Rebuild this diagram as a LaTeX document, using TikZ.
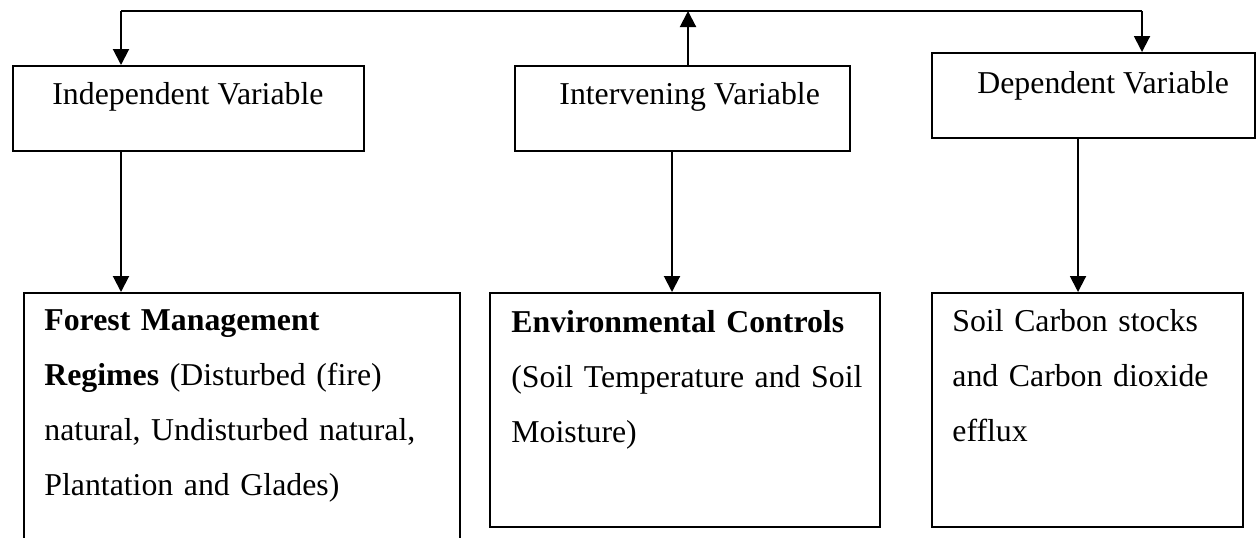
\documentclass[tikz,border=0pt]{standalone}
\usepackage{fontspec}
\setmainfont{Liberation Serif}
\usetikzlibrary{arrows.meta}
\begin{document}
\begin{tikzpicture}[x=0.5pt,y=-0.5pt,
  box/.style={draw,line width=1pt,rectangle,inner sep=0pt,anchor=north west},
  txt/.style={inner sep=0pt,anchor=base west,align=left,font=\fontsize{15.9}{27.5}\selectfont},
  arr/.style={line width=1pt,-{Triangle[width=8pt,length=8pt]}},
  ln/.style={line width=1pt}]
\useasboundingbox (0,0) rectangle (1256,537);
\clip (0,0) rectangle (1256,537);
% top boxes
\node[box,minimum width=175.5pt,minimum height=42.5pt] (b1) at (12,65) {};
\node[box,minimum width=167.5pt,minimum height=42.5pt] (b2) at (514,65) {};
\node[box,minimum width=161.5pt,minimum height=42.5pt] (b3) at (931,52) {};
% bottom boxes
\node[box,minimum width=218pt,minimum height=140pt] (b4) at (23,292) {};
\node[box,minimum width=195pt,minimum height=117pt] (b5) at (489,292) {};
\node[box,minimum width=155.5pt,minimum height=117pt] (b6) at (931,292) {};
% texts
\node[txt] (t1) at (52,104) {Independent Variable};
\node[txt] (t2) at (559,104) {Intervening Variable};
\node[txt] (t3) at (977,93) {Dependent Variable};
\node[txt,text width=210pt] (t4) at (44,330) {\textbf{Forest Management}\\\textbf{Regimes} (Disturbed (fire)\\natural, Undisturbed natural,\\Plantation and Glades)};
\node[txt,text width=190pt] (t5) at (511,332) {\textbf{Environmental Controls}\\(Soil Temperature and Soil\\Moisture)};
\node[txt,text width=150pt] (t6) at (952,331) {Soil Carbon stocks\\and Carbon dioxide\\efflux};
% connector coordinates
\coordinate (c1) at (121,11);
\coordinate (c2) at (688,11);
\coordinate (c3) at (1142,11);
\coordinate (d4) at (121,0);
\coordinate (d5) at (672,0);
\coordinate (d6) at (1078,0);
% top loop
\draw[ln] (c1) -- (c3);
\draw[arr] (c2 |- b2.north) -- (c2);
\draw[arr] (c1) -- (c1 |- b1.north);
\draw[arr] (c3) -- (c3 |- b3.north);
% down arrows
\draw[arr] (b1.south -| d4) -- (b4.north -| d4);
\draw[arr] (b2.south -| d5) -- (b5.north -| d5);
\draw[arr] (b3.south -| d6) -- (b6.north -| d6);
\end{tikzpicture}
\end{document}
